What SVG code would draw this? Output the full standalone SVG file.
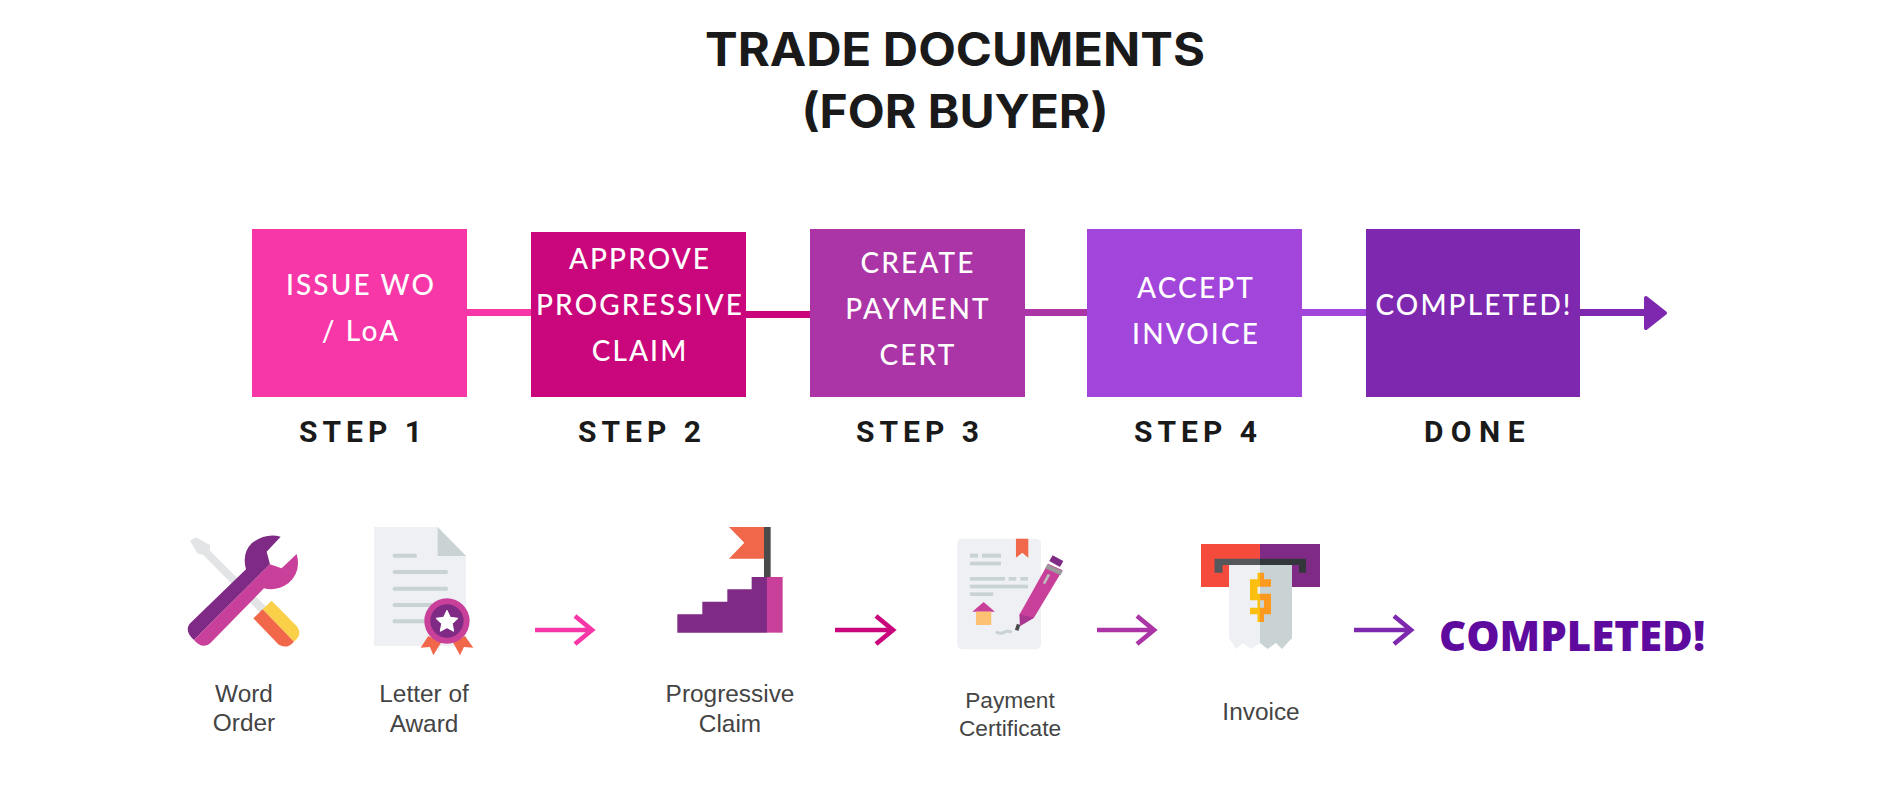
<svg xmlns="http://www.w3.org/2000/svg" width="1901" height="806" viewBox="0 0 1901 806">
<style>
.title{font:700 46px Inter,"Liberation Sans",Arial,sans-serif;fill:#1a1a1a;text-anchor:middle}
.box{font:500 28px Lato,sans-serif;fill:#fff;text-anchor:middle;letter-spacing:2.1px}
.step{font:700 30px Roboto,sans-serif;fill:#1a1a1a;text-anchor:middle;letter-spacing:5px}
.lab{font:24.4px "Liberation Sans",Arial,sans-serif;fill:#444;text-anchor:middle}
.done{font:800 42px "Open Sans",sans-serif;fill:#5f0a9e;text-anchor:middle}
.ar{fill:none;stroke-width:4.6}
.pu{fill:#7f2a85}.pk{fill:#c9409a}.or{fill:#f0674a}.pa{fill:#eef0f4}.gr{fill:#c9d3d4}
</style>
<g id="title"><text class="title" x="955" y="66" textLength="500" lengthAdjust="spacingAndGlyphs">TRADE DOCUMENTS</text><text class="title" x="955" y="128" textLength="307" lengthAdjust="spacingAndGlyphs">(FOR BUYER)</text></g>
<g id="connectors">
<rect x="467" y="309" width="64" height="7" fill="#f736a8"/>
<rect x="745" y="311" width="65" height="7" fill="#c9067b"/>
<rect x="1025" y="309" width="62" height="7" fill="#ab35a6"/>
<rect x="1301" y="309" width="65" height="7" fill="#a245db"/>
<rect x="1580" y="309" width="66" height="7" fill="#7e28b0"/>
<path d="M1646,298L1665,313L1646,328Z" fill="#7e28b0" stroke="#7e28b0" stroke-width="4" stroke-linejoin="round"/>
<g class="ar">
<path d="M535,630H591M575,616L592,630L575,644" stroke="#f736a8"/>
<path d="M835,630H893M876,616L893,630L876,644" stroke="#c9067b"/>
<path d="M1097,630H1154M1137,616L1154,630L1137,644" stroke="#ab35a6"/>
<path d="M1354,630H1411M1394,616L1411,630L1394,644" stroke="#7e28b0"/>
</g>
</g>
<g id="step1"><rect x="252" y="229" width="215" height="168" fill="#f736a8"/><text class="box" x="361" y="295">ISSUE WO</text><text class="box" x="361" y="341">/ LoA</text><text class="step" x="363" y="441.5">STEP 1</text></g>
<g id="step2"><rect x="531" y="232" width="215" height="165" fill="#c9067b"/><text class="box" x="640" y="269">APPROVE</text><text class="box" x="640" y="315">PROGRESSIVE</text><text class="box" x="640" y="361">CLAIM</text><text class="step" x="642" y="441.5">STEP 2</text></g>
<g id="step3"><rect x="810" y="229" width="215" height="168" fill="#ab35a6"/><text class="box" x="918" y="273">CREATE</text><text class="box" x="918" y="319">PAYMENT</text><text class="box" x="918" y="365">CERT</text><text class="step" x="920" y="441.5">STEP 3</text></g>
<g id="step4"><rect x="1087" y="229" width="215" height="168" fill="#a245db"/><text class="box" x="1196" y="298">ACCEPT</text><text class="box" x="1196" y="344">INVOICE</text><text class="step" x="1198" y="441.5">STEP 4</text></g>
<g id="done"><rect x="1366" y="229" width="214" height="168" fill="#7e28b0"/><text class="box" x="1474" y="315">COMPLETED!</text><text class="step" style="letter-spacing:7.5px" x="1478" y="441.5">DONE</text></g>
<g id="word-order">
<g transform="translate(170 510) scale(.3333)">
<path d="M60,92L78,82L120,105L120,122L290,292L272,310L100,135L82,130Z" fill="#e2e4e5"/>
<path d="M278,298L305,272L382,350Q398,375 372,395Z" fill="#fbd049"/>
<path d="M250,325L278,298L372,395Q350,420 325,403Z" class="or"/>
<path d="M72,390C50,372 48,352 62,338L228,178Q215,130 245,100Q285,68 332,80L290,125L300,163Z" class="pu"/>
<path d="M72,390L300,163L335,175L380,132Q395,185 355,220Q320,245 282,235L125,395C110,412 90,412 72,390Z" class="pk"/>
</g>
<text class="lab" x="244" y="702">Word</text><text class="lab" x="244" y="731">Order</text></g>
<g id="letter-of-award">
<g transform="translate(170 511) scale(.3333)">
<path d="M612,48H803L888,135V405H612Z" class="pa"/><path d="M803,48L888,135H803Z" class="gr"/>
<rect x="668" y="128" width="73" height="12" rx="5" class="gr"/><rect x="668" y="177" width="166" height="12" rx="5" class="gr"/><rect x="668" y="227" width="166" height="12" rx="5" class="gr"/><rect x="668" y="276" width="122" height="12" rx="5" class="gr"/><rect x="668" y="325" width="102" height="12" rx="5" class="gr"/>
<path d="M775,375L752,410L780,408L790,433L815,392Z" class="or"/><path d="M885,375L910,410L882,408L870,433L848,392Z" class="or"/>
<circle cx="831" cy="330" r="68" class="pk"/><circle cx="831" cy="330" r="50" class="pu"/>
<path d="M831,298L841,319L864,322L847,338L851,361L831,350L811,361L815,338L798,322L821,319Z" fill="#fff" stroke="#fff" stroke-width="3" stroke-linejoin="round"/>
</g>
<text class="lab" x="424" y="702">Letter of</text><text class="lab" x="424" y="732">Award</text></g>
<g id="progressive-claim">
<g transform="translate(640 511) scale(.3333)">
<rect x="372" y="48" width="20" height="150" fill="#4a4a4a"/>
<path d="M372,48H267L313,95L267,143H372Z" class="or"/>
<path d="M112,365V310H187V272H262V235H335V198H381V365Z" class="pu"/><rect x="381" y="198" width="47" height="167" class="pk"/>
</g>
<text class="lab" x="730" y="702">Progressive</text><text class="lab" x="730" y="732">Claim</text></g>
<g id="payment-certificate">
<g transform="translate(640 511) scale(.3333)">
<rect x="952" y="83" width="251" height="332" rx="15" class="pa"/>
<path d="M1128,83H1165V140L1147,125L1128,140Z" class="or"/>
<g class="gr"><rect x="990" y="128" width="24" height="12"/><rect x="1026" y="128" width="57" height="12"/><rect x="990" y="152" width="93" height="11"/><rect x="990" y="198" width="105" height="11"/><rect x="1106" y="198" width="23" height="11"/><rect x="1141" y="198" width="23" height="11"/><rect x="990" y="221" width="174" height="11"/><rect x="990" y="244" width="70" height="11"/></g>
<path d="M997,302L1031,273L1065,302Z" class="pk"/><rect x="1008" y="302" width="46" height="40" fill="#fdc172"/>
<path d="M1068,362Q1080,370 1092,364T1115,364" fill="none" stroke="#c9d3d4" stroke-width="9"/>
<path d="M1136,340L1130,358" fill="none" stroke="#4a4a4a" stroke-width="11"/>
<path d="M1238,133L1270,150L1260,168L1228,150Z" class="pu"/>
<path d="M1139,310L1224,158L1268,178L1182,320L1140,345Z" class="pk"/>
<path d="M1139,310L1182,320L1140,345Z" fill="#a93690"/>
<path d="M1222,160L1268,180L1262,193L1216,172Z" fill="#9a9a9a"/>
<path d="M1227,190L1212,218" fill="none" stroke="#bbb" stroke-width="8"/>
</g>
<text class="lab" style="font-size:22.7px" x="1010" y="708">Payment</text><text class="lab" style="font-size:22.7px" x="1010" y="736">Certificate</text></g>
<g id="invoice">
<g transform="translate(0 1)">
<rect x="1201" y="543" width="59" height="43" fill="#f44b3d"/><rect x="1260" y="543" width="60" height="43" class="pu"/>
<path d="M1214.5,557.7H1260V564H1222.6V571.7H1214.5Z" fill="#54585d"/><path d="M1260,557.7H1306V571.7H1299V564H1260Z" fill="#33363b"/>
<path d="M1229,564H1260V642L1251,648L1243,642L1236,648L1229,637Z" class="pa"/>
<path d="M1260,564H1292V637L1282,648L1276,642L1267.5,648L1260,642Z" class="gr"/>
<path d="M1257.5,571.7H1260V621H1257.5V613.3H1250V606.7H1257.5V599.3H1250V578.3H1257.5ZM1257.5,585.7V592.7H1260V585.7Z" fill="#fdbf0f" fill-rule="evenodd"/>
<path d="M1260,571.7H1264V578.3H1271V585.7H1260ZM1260,592.7H1271V613.3H1264V621H1260V606.7H1264V599.3H1260Z" fill="#fb9a1f"/>
</g>
<text class="lab" x="1261" y="720">Invoice</text></g>
<g id="completed"><text class="done" x="1572" y="651">COMPLETED!</text></g>
</svg>
